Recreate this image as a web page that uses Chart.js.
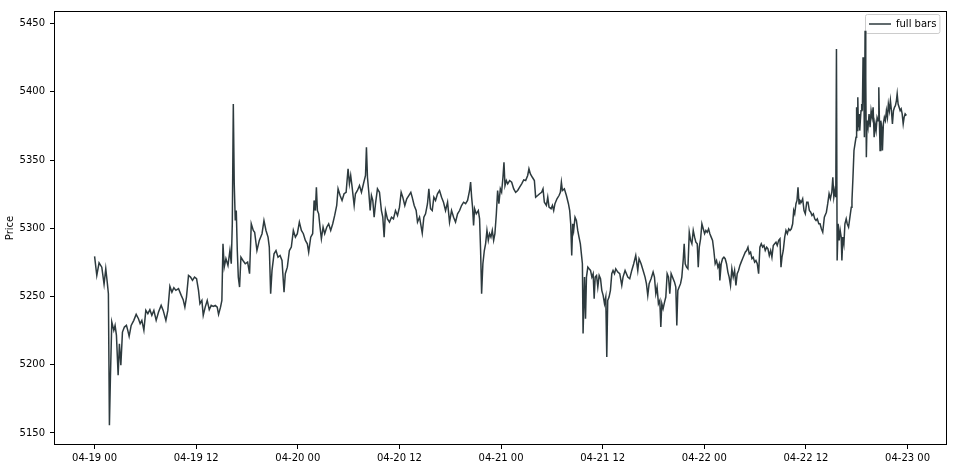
<!DOCTYPE html>
<html>
<head>
<meta charset="utf-8">
<script src="https://cdn.jsdelivr.net/npm/chart.js@4.4.1/dist/chart.umd.min.js"></script>
<style>
  body { margin: 0; background: #fff; }
  canvas { display: block; }
</style>
</head>
<body>
<canvas id="myChart" width="957" height="469"></canvas>
<script>
// hours since 04-19 00:00
const hours = [
  0.00, 0.26, 0.53, 0.85, 1.12, 1.32, 1.51, 1.63, 1.75, 1.87, 2.03, 2.27, 2.42, 2.58, 2.78, 2.93, 3.10, 3.29, 3.52, 3.76,
  3.92, 4.08, 4.32, 4.63, 4.91, 5.18, 5.38, 5.58, 5.82, 6.05, 6.29, 6.53, 6.76, 7.00, 7.27, 7.55, 7.86, 8.10, 8.42, 8.65,
  8.89, 9.13, 9.36, 9.60, 9.91, 10.23, 10.46, 10.66, 10.85, 11.09, 11.33, 11.56, 11.80, 12.04, 12.27, 12.44, 12.67, 12.83, 13.06, 13.30,
  13.54, 13.77, 14.01, 14.25, 14.48, 14.64, 14.87, 15.03, 15.16, 15.31, 15.51, 15.75, 15.98, 16.14, 16.26, 16.38, 16.49, 16.61, 16.73, 16.85,
  16.97, 17.12, 17.28, 17.52, 17.79, 18.07, 18.30, 18.50, 18.74, 18.90, 19.17, 19.45, 19.77, 20.00, 20.24, 20.48, 20.63, 20.79, 20.95, 21.19,
  21.42, 21.66, 21.90, 22.13, 22.37, 22.52, 22.76, 23.00, 23.23, 23.47, 23.71, 23.94, 24.18, 24.42, 24.65, 24.89, 25.12, 25.28, 25.52, 25.75,
  25.92, 26.07, 26.19, 26.31, 26.46, 26.62, 26.78, 26.98, 27.17, 27.41, 27.64, 27.88, 28.12, 28.35, 28.59, 28.75, 28.99, 29.22, 29.46, 29.70,
  29.93, 30.09, 30.24, 30.41, 30.65, 30.80, 31.04, 31.28, 31.51, 31.75, 31.99, 32.10, 32.22, 32.38, 32.54, 32.69, 32.85, 33.01, 33.17, 33.40,
  33.64, 33.87, 34.03, 34.19, 34.35, 34.58, 34.82, 35.06, 35.29, 35.53, 35.77, 36.00, 36.20, 36.39, 36.63, 36.86, 37.10, 37.34, 37.50, 37.74,
  37.97, 38.13, 38.37, 38.69, 38.88, 39.08, 39.31, 39.47, 39.67, 39.87, 40.06, 40.26, 40.49, 40.73, 40.97, 41.20, 41.44, 41.68, 41.91, 42.15,
  42.39, 42.62, 42.86, 43.10, 43.33, 43.57, 43.81, 44.04, 44.28, 44.40, 44.52, 44.63, 44.75, 44.87, 45.07, 45.31, 45.46, 45.58, 45.70, 45.85,
  46.02, 46.17, 46.33, 46.49, 46.64, 46.80, 46.96, 47.12, 47.27, 47.44, 47.59, 47.74, 47.91, 48.06, 48.22, 48.34, 48.46, 48.62, 48.78, 49.01,
  49.25, 49.49, 49.72, 49.96, 50.19, 50.43, 50.67, 50.90, 51.14, 51.29, 51.46, 51.69, 51.93, 52.08, 52.32, 52.55, 52.79, 52.95, 53.11, 53.35,
  53.51, 53.66, 53.90, 54.06, 54.21, 54.36, 54.60, 54.84, 55.00, 55.12, 55.24, 55.47, 55.71, 55.95, 56.10, 56.22, 56.34, 56.46, 56.57, 56.73,
  56.89, 57.05, 57.20, 57.36, 57.52, 57.60, 57.68, 57.85, 57.97, 58.08, 58.24, 58.39, 58.56, 58.72, 58.87, 58.99, 59.11, 59.27, 59.42, 59.58,
  59.74, 59.89, 60.05, 60.21, 60.36, 60.48, 60.59, 60.75, 60.91, 61.07, 61.22, 61.39, 61.54, 61.78, 62.01, 62.25, 62.40, 62.64, 62.96, 63.19,
  63.43, 63.66, 63.90, 64.14, 64.29, 64.53, 64.77, 65.00, 65.16, 65.32, 65.48, 65.71, 65.95, 66.11, 66.27, 66.42, 66.58, 66.74, 66.86, 66.98,
  67.13, 67.30, 67.45, 67.61, 67.77, 67.92, 68.08, 68.24, 68.48, 68.63, 68.75, 68.87, 69.03, 69.19, 69.34, 69.50, 69.62, 69.74, 69.90, 70.06,
  70.22, 70.38, 70.53, 70.69, 70.85, 71.00, 71.16, 71.28, 71.40, 71.56, 71.71, 71.87, 72.03, 72.18, 72.34, 72.50, 72.65, 72.81, 72.97, 73.12,
  73.28, 73.44, 73.60, 73.75, 73.83, 73.99, 74.15, 74.31, 74.46, 74.62, 74.78, 74.93, 75.09, 75.25, 75.41, 75.57, 75.73, 75.88, 76.04, 76.20,
  76.35, 76.51, 76.67, 76.83, 76.99, 77.15, 77.30, 77.46, 77.62, 77.77, 77.94, 78.09, 78.25, 78.41, 78.56, 78.72, 78.88, 79.04, 79.19, 79.36,
  79.51, 79.67, 79.83, 79.98, 80.14, 80.30, 80.46, 80.61, 80.78, 80.93, 81.05, 81.17, 81.32, 81.49, 81.64, 81.80, 81.96, 82.11, 82.27, 82.43,
  82.55, 82.67, 82.82, 82.94, 83.06, 83.18, 83.29, 83.45, 83.61, 83.77, 83.92, 84.09, 84.24, 84.40, 84.56, 84.71, 84.87, 85.04, 85.19, 85.34,
  85.51, 85.66, 85.82, 85.98, 86.17, 86.41, 86.57, 86.73, 86.88, 87.05, 87.17, 87.29, 87.41, 87.52, 87.60, 87.68, 87.80, 87.92, 88.04, 88.16,
  88.24, 88.36, 88.48, 88.60, 88.75, 88.87, 89.03, 89.19, 89.35, 89.43, 89.55, 89.67, 89.79, 89.91, 89.98, 90.03, 90.12, 90.19, 90.27, 90.35,
  90.42, 90.50, 90.58, 90.66, 90.74, 90.82, 90.90, 90.98, 91.06, 91.13, 91.21, 91.33, 91.45, 91.57, 91.69, 91.81, 91.93, 92.05, 92.16, 92.28,
  92.40, 92.52, 92.60, 92.67, 92.75, 92.83, 92.95, 93.03, 93.14, 93.26, 93.38, 93.50, 93.62, 93.73, 93.85, 93.97, 94.09, 94.21, 94.33, 94.45,
  94.56, 94.68, 94.77, 94.88, 95.00, 95.12, 95.24, 95.36, 95.48, 95.59, 95.71, 95.86
];

const prices = [
  5279.4, 5265.4, 5274.7, 5271.5, 5258.9, 5270.3, 5259.4, 5252.0, 5155.6, 5191.0, 5231.3, 5225.2, 5228.8, 5221.5, 5192.2, 5215.4, 5199.6, 5223.9, 5227.6, 5228.8,
  5225.2, 5220.8, 5228.8, 5232.5, 5236.9, 5233.7, 5230.1, 5232.5, 5225.2, 5239.8, 5237.4, 5240.3, 5236.2, 5239.8, 5232.5, 5238.6, 5243.5, 5239.8, 5232.5, 5239.8,
  5257.4, 5253.2, 5256.4, 5254.5, 5255.7, 5250.8, 5247.7, 5242.2, 5249.6, 5265.4, 5264.2, 5261.8, 5264.2, 5263.0, 5254.5, 5244.7, 5247.1, 5236.2, 5242.2, 5247.1,
  5240.3, 5243.5, 5242.8, 5243.5, 5242.2, 5236.9, 5242.2, 5247.1, 5288.6, 5271.5, 5277.7, 5272.8, 5283.7, 5274.0, 5303.3, 5391.1, 5332.6, 5305.7, 5313.0, 5283.7,
  5264.2, 5256.9, 5278.8, 5276.4, 5274.0, 5275.2, 5266.7, 5303.3, 5298.4, 5297.1, 5283.7, 5291.1, 5296.0, 5305.7, 5298.4, 5293.5, 5286.2, 5252.0, 5269.1, 5281.3,
  5283.7, 5278.8, 5280.1, 5276.4, 5253.2, 5266.7, 5271.5, 5283.7, 5286.2, 5298.4, 5293.5, 5296.0, 5304.5, 5298.4, 5296.0, 5291.1, 5288.6, 5282.5, 5293.5, 5296.0,
  5320.4, 5313.0, 5330.1, 5313.0, 5310.6, 5300.8, 5292.3, 5300.8, 5296.0, 5300.8, 5303.3, 5298.4, 5303.3, 5309.4, 5316.7, 5328.9, 5324.0, 5320.4, 5325.3, 5326.4,
  5343.6, 5332.6, 5338.7, 5330.1, 5316.7, 5325.3, 5327.7, 5331.3, 5326.4, 5332.6, 5338.7, 5359.4, 5337.4, 5326.4, 5313.0, 5324.0, 5320.4, 5308.1, 5318.0, 5328.9,
  5326.4, 5313.0, 5308.1, 5293.5, 5313.0, 5306.9, 5304.5, 5308.1, 5306.9, 5313.0, 5309.4, 5315.5, 5326.4, 5322.8, 5316.7, 5321.6, 5324.0, 5326.4, 5322.8, 5316.7,
  5313.0, 5304.5, 5308.1, 5296.4, 5308.1, 5310.6, 5318.0, 5328.9, 5314.3, 5313.0, 5322.8, 5320.4, 5325.3, 5327.7, 5322.8, 5319.1, 5313.0, 5319.1, 5304.5, 5313.0,
  5308.1, 5304.5, 5310.6, 5313.0, 5316.7, 5319.1, 5318.0, 5320.4, 5327.7, 5333.8, 5322.8, 5315.5, 5302.1, 5314.3, 5310.6, 5313.0, 5306.9, 5283.7, 5252.0, 5274.0,
  5283.7, 5288.6, 5298.4, 5291.1, 5296.0, 5293.5, 5298.4, 5291.1, 5296.0, 5310.6, 5327.7, 5318.0, 5328.9, 5326.4, 5337.4, 5348.4, 5331.3, 5335.0, 5332.6, 5335.0,
  5333.8, 5328.9, 5326.4, 5327.7, 5330.1, 5332.6, 5335.5, 5335.0, 5338.7, 5343.6, 5339.9, 5337.4, 5335.0, 5322.8, 5324.0, 5325.3, 5326.4, 5328.9, 5319.1, 5316.7,
  5322.8, 5315.5, 5314.3, 5316.7, 5313.0, 5318.0, 5321.6, 5324.0, 5326.4, 5333.8, 5327.7, 5328.9, 5324.0, 5318.0, 5313.0, 5303.3, 5280.1, 5303.3, 5298.4, 5308.1,
  5305.7, 5298.4, 5293.5, 5288.6, 5278.8, 5274.0, 5222.8, 5264.2, 5233.7, 5264.2, 5271.5, 5270.3, 5269.1, 5264.2, 5266.7, 5248.4, 5264.2, 5265.4, 5256.9, 5265.4,
  5263.0, 5254.5, 5250.8, 5244.7, 5249.6, 5205.6, 5247.1, 5249.6, 5254.5, 5266.7, 5269.1, 5266.7, 5270.3, 5267.9, 5266.7, 5258.1, 5264.2, 5269.1, 5264.2, 5263.0,
  5269.1, 5274.0, 5280.1, 5269.1, 5277.7, 5274.0, 5269.1, 5264.2, 5259.4, 5250.8, 5259.4, 5263.0, 5267.9, 5264.2, 5252.0, 5256.9, 5244.7, 5247.1, 5227.6, 5244.7,
  5241.0, 5245.9, 5249.6, 5266.7, 5264.2, 5252.0, 5266.7, 5264.2, 5260.5, 5256.9, 5228.8, 5254.5, 5256.9, 5259.4, 5264.2, 5276.4, 5288.6, 5274.0, 5271.5, 5270.3,
  5297.1, 5291.1, 5288.6, 5298.4, 5293.5, 5289.8, 5288.6, 5271.5, 5286.2, 5292.3, 5303.3, 5299.6, 5296.0, 5298.4, 5297.1, 5299.6, 5296.0, 5293.5, 5291.1, 5283.7,
  5274.0, 5276.4, 5271.5, 5274.0, 5261.8, 5274.0, 5277.7, 5278.8, 5277.7, 5274.0, 5267.9, 5264.2, 5258.1, 5270.3, 5264.2, 5269.1, 5258.1, 5266.7, 5269.1, 5272.8,
  5275.2, 5277.7, 5280.1, 5282.5, 5283.7, 5286.2, 5281.3, 5282.5, 5277.7, 5278.8, 5275.2, 5276.4, 5274.0, 5266.7, 5286.2, 5288.6, 5286.2, 5287.4, 5283.7, 5286.2,
  5285.0, 5280.1, 5283.7, 5278.8, 5287.4, 5288.6, 5289.8, 5287.4, 5291.1, 5292.3, 5271.5, 5278.8, 5283.7, 5293.5, 5298.4, 5296.0, 5299.6, 5298.4, 5299.6, 5303.3,
  5313.0, 5310.6, 5318.0, 5320.4, 5330.1, 5318.0, 5320.4, 5319.1, 5321.6, 5313.0, 5310.6, 5319.1, 5319.1, 5313.0, 5311.8, 5309.4, 5310.6, 5306.9, 5305.7, 5306.9,
  5303.3, 5303.3, 5299.6, 5297.1, 5308.1, 5311.8, 5318.0, 5325.3, 5321.6, 5326.4, 5337.4, 5322.8, 5327.7, 5322.8, 5431.4, 5276.4, 5303.3, 5291.1, 5298.4, 5293.5,
  5276.4, 5293.5, 5288.6, 5303.3, 5306.9, 5303.3, 5300.8, 5308.1, 5315.5, 5320.4, 5337.4, 5357.0, 5361.8, 5366.7, 5388.7, 5371.6, 5396.0, 5374.0, 5383.8, 5371.6,
  5378.9, 5386.2, 5391.1, 5386.2, 5425.3, 5410.6, 5366.7, 5444.8, 5410.6, 5352.0, 5378.9, 5374.0, 5383.8, 5374.0, 5386.2, 5381.3, 5388.7, 5366.7, 5376.5, 5371.6,
  5381.3, 5378.9, 5403.3, 5378.9, 5357.0, 5378.9, 5374.0, 5357.0, 5376.5, 5381.3, 5378.9, 5386.2, 5381.3, 5391.1, 5386.2, 5393.6, 5386.2, 5376.5, 5386.2, 5388.7,
  5389.9, 5393.6, 5398.5, 5391.1, 5388.7, 5386.2, 5387.5, 5383.8, 5376.5, 5381.3, 5383.8, 5382.6
];

const xTickHours = [0, 12, 24, 36, 48, 60, 72, 84, 96];
const xTickLabels = ['04-19 00', '04-19 12', '04-20 00', '04-20 12', '04-21 00', '04-21 12', '04-22 00', '04-22 12', '04-23 00'];
const yTicks = [5150, 5200, 5250, 5300, 5350, 5400, 5450];

window.onload = function () {
    const ctx = document.getElementById('myChart').getContext('2d');
    const font = { family: 'DejaVu Sans', size: 10 };
    const lineColor = '#2d3a3e';

    // matplotlib style 5% margins
    const hMin = Math.min(...hours), hMax = Math.max(...hours);
    const pMin = Math.min(...prices), pMax = Math.max(...prices);
    const hPad = (hMax - hMin) * 0.05, pPad = (pMax - pMin) * 0.05;

    const points = hours.map((h, i) => ({ x: h, y: prices[i] }));

    // axes box, legend frame and legend placement (upper right, inside the axes)
    const frame = {
        id: 'frame',
        afterLayout(chart) {
            const lg = chart.legend, a = chart.chartArea;
            const pad = lg.options.labels.padding;
            const w = lg.width, h = lg.height;
            lg.left = a.right - 78 - pad;
            lg.top = a.top + 8 - pad;
            lg.right = lg.left + w;
            lg.bottom = lg.top + h;
        },
        beforeDraw(chart) {
            const box = chart.legend.legendHitBoxes[0];
            if (!box) return;
            const c = chart.ctx;
            c.save();
            c.fillStyle = 'rgba(255,255,255,0.8)';
            c.strokeStyle = '#cccccc';
            c.lineWidth = 1;
            c.beginPath();
            c.roundRect(Math.round(box.left) - 3.5, Math.round(box.top) - 4.5, box.width + 7, box.height + 9, 2);
            c.fill();
            c.stroke();
            c.restore();
        },
        afterDraw(chart) {
            const a = chart.chartArea;
            const c = chart.ctx;
            c.save();
            c.strokeStyle = '#000';
            c.lineWidth = 1;
            c.strokeRect(Math.round(a.left) + 0.5, Math.round(a.top) + 0.5,
                Math.round(a.right - a.left) - 1, Math.round(a.bottom - a.top) - 1);
            c.restore();
        }
    };

    const chart = new Chart(ctx, {
        type: 'line',
        data: {
            datasets: [{
                label: 'full bars',
                data: points,
                borderColor: lineColor,
                backgroundColor: lineColor,
                borderWidth: 1.5,
                pointRadius: 0,
                tension: 0
            }]
        },
        options: {
            responsive: false,
            animation: false,
            layout: { padding: { top: 11, right: 10, left: 0, bottom: 0 } },
            scales: {
                x: {
                    type: 'linear',
                    min: hMin - hPad,
                    max: hMax + hPad,
                    afterBuildTicks: s => { s.ticks = xTickHours.map(v => ({ value: v })); },
                    afterFit: s => { s.height = 24; },
                    ticks: {
                        callback: (v, i) => xTickLabels[i],
                        autoSkip: false, maxRotation: 0, padding: 3,
                        color: '#000', font: font
                    },
                    grid: { drawOnChartArea: false, drawTicks: true, tickLength: 4, color: '#000' },
                    border: { display: false }
                },
                y: {
                    min: pMin - pPad,
                    max: pMax + pPad,
                    afterBuildTicks: s => { s.ticks = yTicks.map(v => ({ value: v })); },
                    afterFit: s => { s.width = 54; },
                    ticks: { callback: v => String(v), padding: 5, color: '#000', font: font },
                    grid: { drawOnChartArea: false, drawTicks: true, tickLength: 4, color: '#000' },
                    border: { display: false },
                    title: { display: true, text: 'Price', color: '#000', font: font, padding: { top: 4, bottom: 0 } }
                }
            },
            plugins: {
                legend: {
                    position: 'chartArea',
                    align: 'start',
                    labels: {
                        usePointStyle: true,
                        pointStyle: 'line',
                        pointStyleWidth: 22,
                        boxHeight: 10,
                        color: '#000',
                        font: font,
                        padding: 8
                    }
                },
                tooltip: { enabled: false }
            }
        },
        plugins: [frame]
    });
}
</script>
</body>
</html>
